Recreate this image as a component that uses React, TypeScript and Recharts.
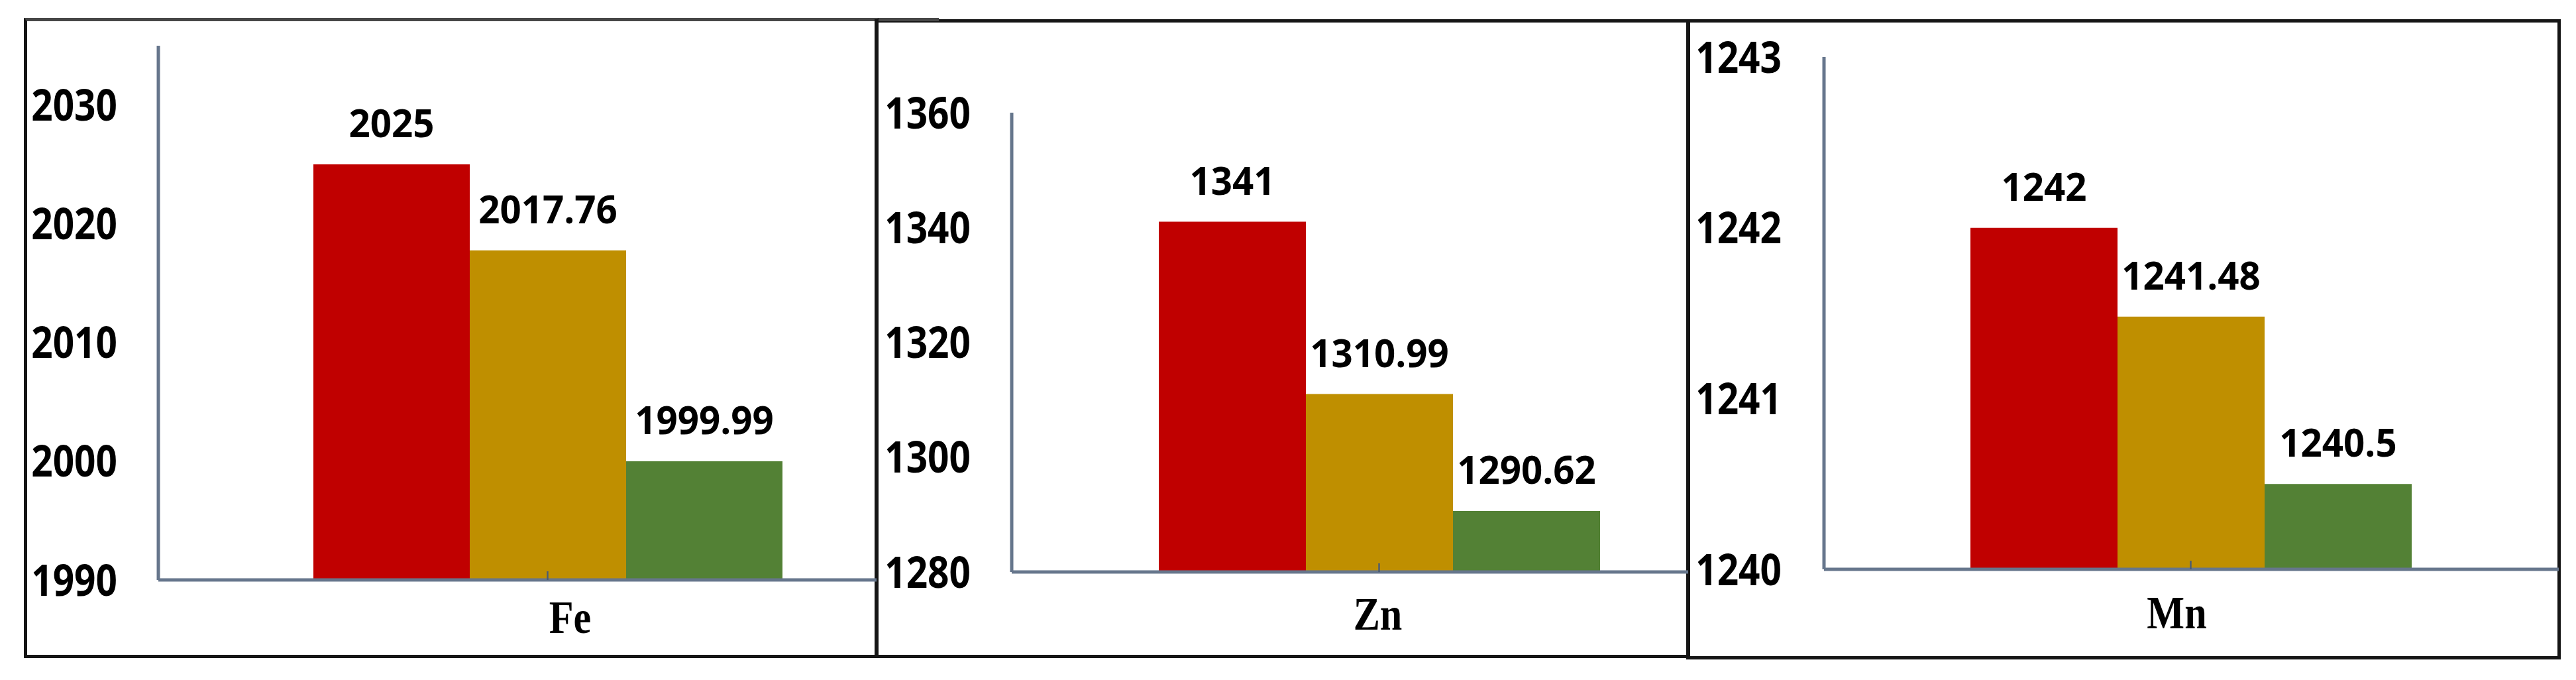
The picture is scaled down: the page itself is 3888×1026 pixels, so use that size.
import React from "react";
import { BarChart, Bar, XAxis, YAxis, LabelList } from "recharts";

// element categories, one panel per element
const elements = ["Fe", "Zn", "Mn"];
// three series (red / gold / green)
const seriesRed = [2025, 1341, 1242];
const seriesGold = [2017.76, 1310.99, 1241.48];
const seriesGreen = [1999.99, 1290.62, 1240.5];
// y scales and tick labels per panel
const yDomains: [number, number][] = [
  [1990, 2035],
  [1280, 1360],
  [1240, 1243],
];
const yTicks = [
  [1990, 2000, 2010, 2020, 2030],
  [1280, 1300, 1320, 1340, 1360],
  [1240, 1241, 1242, 1243],
];

const W = 3888;
const H = 1026;
const XH = 100;

const RED = "#C00000";
const GOLD = "#BF8F00";
const GREEN = "#538135";
const AXIS = "#66768c";

// layout of each panel (pixel positions of the plot area)
const panels = [
  { axisX: 239, top: 69, axisY: 875, right: 1323, padL: 91, padR: 0, barSize: 236, gap: 62, labelDx: 34, labelBase: 955 },
  { axisX: 1527, top: 170, axisY: 863, right: 2548, padL: 88, padR: 0, barSize: 222, gap: 62, labelDx: -2, labelBase: 950 },
  { axisX: 2753, top: 86, axisY: 859, right: 3862, padL: 0, padR: 2, barSize: 222, gap: 64, labelDx: -21, labelBase: 948 },
];

const frames = [
  { left: 36, top: 27, width: 1290, height: 966 },
  { left: 1320, top: 29, width: 1231, height: 964 },
  { left: 2545, top: 29, width: 1320, height: 966 },
];

const YTick = (props: any) => {
  const { x, y, payload } = props;
  return (
    <text
      transform={`translate(${x},${y + 23.5}) scale(0.86,1)`}
      textAnchor="end"
      fontFamily="Open Sans"
      fontWeight={700}
      fontSize={66}
      fill="#000"
    >
      {payload.value}
    </text>
  );
};

const XTick = (props: any) => {
  const { x, y, payload, cfg } = props;
  return (
    <g>
      <line x1={x} x2={x} y1={y - 13} y2={y} stroke="#4b5b72" strokeWidth={2.5} />
      <text
        transform={`translate(${x + cfg.labelDx},${y + (cfg.labelBase - cfg.axisY)}) scale(0.86,1)`}
        textAnchor="middle"
        fontFamily="Liberation Serif"
        fontWeight={700}
        fontSize={70}
        fill="#000"
      >
        {payload.value}
      </text>
    </g>
  );
};

const ValueLabel = (props: any) => {
  const { x, y, width, value } = props;
  return (
    <text
      transform={`translate(${x + width / 2},${y - 41}) scale(0.94,1)`}
      textAnchor="middle"
      fontFamily="Open Sans"
      fontWeight={700}
      fontSize={60}
      fill="#000"
    >
      {value}
    </text>
  );
};

function Panel({ i }: { i: number }) {
  const cfg = panels[i];
  const data = [{ name: elements[i], red: seriesRed[i], gold: seriesGold[i], green: seriesGreen[i] }];
  return (
    <div style={{ position: "absolute", left: 0, top: 0 }}>
      <BarChart
        width={W}
        height={H}
        data={data}
        barGap={0}
        margin={{ top: cfg.top, right: W - cfg.right, bottom: H - cfg.axisY - XH, left: 0 }}
      >
        <XAxis
          dataKey="name"
          height={XH}
          padding={{ left: cfg.padL, right: cfg.padR }}
          axisLine={{ stroke: AXIS, strokeWidth: 5 }}
          tickLine={false}
          tickSize={0}
          tickMargin={0}
          tick={(p: any) => <XTick {...p} cfg={cfg} />}
        />
        <YAxis
          type="number"
          width={cfg.axisX}
          domain={yDomains[i]}
          ticks={yTicks[i]}
          allowDataOverflow
          interval={0}
          axisLine={{ stroke: AXIS, strokeWidth: 5 }}
          tickLine={false}
          tickSize={0}
          tickMargin={cfg.gap}
          tick={(p: any) => <YTick {...p} />}
        />
        <Bar dataKey="red" fill={RED} barSize={cfg.barSize} isAnimationActive={false}>
          <LabelList dataKey="red" content={(p: any) => <ValueLabel {...p} />} />
        </Bar>
        <Bar dataKey="gold" fill={GOLD} barSize={cfg.barSize} isAnimationActive={false}>
          <LabelList dataKey="gold" content={(p: any) => <ValueLabel {...p} />} />
        </Bar>
        <Bar dataKey="green" fill={GREEN} barSize={cfg.barSize} isAnimationActive={false}>
          <LabelList dataKey="green" content={(p: any) => <ValueLabel {...p} />} />
        </Bar>
      </BarChart>
    </div>
  );
}

export default function App() {
  return (
    <div style={{ position: "absolute", left: 0, top: 0, width: W, height: H, background: "#fff", overflow: "hidden" }}>
      {frames.map((f, k) => (
        <div
          key={k}
          style={{
            position: "absolute",
            left: f.left,
            top: f.top,
            width: f.width,
            height: f.height,
            boxSizing: "border-box",
            border: "5px solid #151515",
            borderTopColor: k === 0 ? "#474747" : "#151515",
          }}
        />
      ))}
      {/* top rule of the first panel runs a little past its right edge */}
      <div style={{ position: "absolute", left: 1326, top: 27, width: 91, height: 5, background: "#474747" }} />
      {panels.map((_, i) => (
        <Panel key={i} i={i} />
      ))}
    </div>
  );
}
